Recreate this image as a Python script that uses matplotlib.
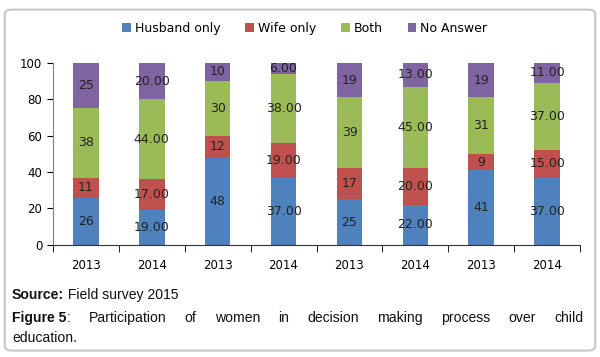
import matplotlib.pyplot as plt
import numpy as np
from matplotlib import font_manager
from matplotlib.patches import FancyBboxPatch

years = ["2013", "2014", "2013", "2014", "2013", "2014", "2013", "2014"]
husband_only = [26, 19, 48, 37, 25, 22, 41, 37]
wife_only = [11, 17, 12, 19, 17, 20, 9, 15]
both = [38, 44, 30, 38, 39, 45, 31, 37]
no_answer = [25, 20, 10, 6, 19, 13, 19, 11]
series_names = ["Husband only", "Wife only", "Both", "No Answer"]
colors = ["#4F81BD", "#C0504D", "#9BBB59", "#8064A2"]


def find_font(filename):
    for path in font_manager.findSystemFonts():
        if path.endswith(filename):
            return path
    return None


regular_path = find_font("LiberationSans-Regular.ttf")
bold_path = find_font("LiberationSans-Bold.ttf")
cap_size = 10.1
if regular_path:
    cap_regular = font_manager.FontProperties(fname=regular_path, size=cap_size)
else:
    cap_regular = font_manager.FontProperties(family="Liberation Sans", size=cap_size)
if bold_path:
    cap_bold = font_manager.FontProperties(fname=bold_path, size=cap_size)
else:
    cap_bold = font_manager.FontProperties(family="Liberation Sans", weight="bold", size=cap_size)

fig = plt.figure(figsize=(6.0, 3.57), dpi=100)

border = FancyBboxPatch(
    (0.008, 0.018), 0.984, 0.955,
    boxstyle="round,pad=0,rounding_size=0.012",
    transform=fig.transFigure, facecolor="white",
    edgecolor="#c8c8c8", linewidth=1.5, zorder=-1,
)
fig.patches.append(border)

ax = fig.add_axes([0.088, 0.314, 0.879, 0.51])
x = np.arange(len(years))
bottom = np.zeros(len(years))
series = [husband_only, wife_only, both, no_answer]
for name, values, color in zip(series_names, series, colors):
    values = np.array(values, dtype=float)
    ax.bar(x, values, 0.39, bottom=bottom, color=color, label=name)
    for i, v in enumerate(values):
        text = f"{v:.0f}" if i % 2 == 0 else f"{v:.2f}"
        ax.text(x[i], bottom[i] + v / 2, text, ha="center", va="center",
                fontsize=9, color="#222222")
    bottom += values

ax.set_xlim(-0.5, len(years) - 0.5)
ax.set_ylim(0, 100)
ax.set_yticks(range(0, 101, 20))
ax.set_xticks(x)
ax.set_xticklabels(years)
ax.set_xticks(np.arange(-0.5, len(years), 1), minor=True)
ax.tick_params(axis="x", which="major", length=0, pad=10, labelsize=8.5)
ax.tick_params(axis="x", which="minor", length=5, direction="out")
ax.tick_params(axis="y", length=4, direction="out", labelsize=8.5)
for side in ["top", "right"]:
    ax.spines[side].set_visible(False)
ax.spines["left"].set_color("#808080")
ax.spines["bottom"].set_color("#333333")

fig.legend(loc="center", bbox_to_anchor=(0.508, 0.92), ncol=4,
           frameon=False, fontsize=9, handlelength=0.7, handleheight=0.7,
           handletextpad=0.3, columnspacing=2.0)

renderer = fig.canvas.get_renderer()
fig_w = fig.bbox.width


def place_run(parts, x0, y):
    # parts: list of (text, props); placed one after another
    pos = x0
    for s, props in parts:
        t = fig.text(pos, y, s, va="center", color="#111111", fontproperties=props)
        pos += t.get_window_extent(renderer).width / fig_w
    return pos


place_run([("Source:", cap_bold), (" Field survey 2015", cap_regular)], 0.02, 0.174)

# justified caption line
left, right, ypos = 0.02, 0.972, 0.109
words = [[("Figure 5", cap_bold), (":", cap_regular)]] + [
    [(w, cap_regular)] for w in
    ["Participation", "of", "women", "in", "decision", "making", "process",
     "over", "child"]
]
items = []
for group in words:
    ts = [fig.text(0, ypos, s, va="center", color="#111111", fontproperties=p)
          for s, p in group]
    items.append(ts)
widths = [[t.get_window_extent(renderer).width / fig_w for t in g] for g in items]
total = sum(sum(w) for w in widths)
gap = (right - left - total) / (len(items) - 1)
pos = left
for group, ws in zip(items, widths):
    for t, w in zip(group, ws):
        t.set_x(pos)
        pos += w
    pos += gap
fig.text(0.02, 0.053, "education.", va="center", color="#111111",
         fontproperties=cap_regular)

fig.savefig("out.png", dpi=100)
